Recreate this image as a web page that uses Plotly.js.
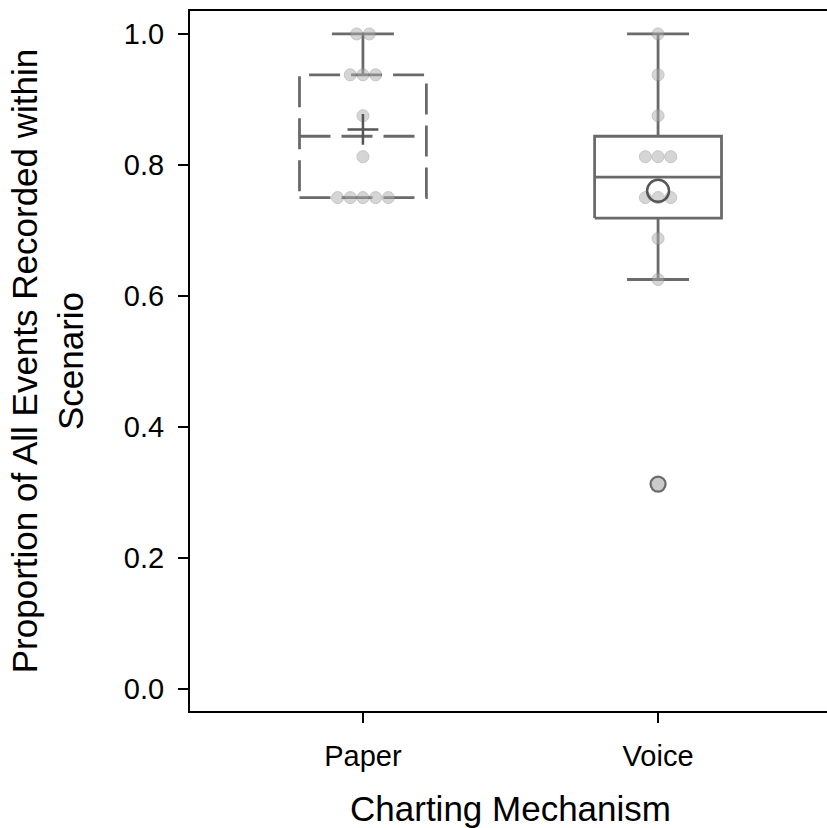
<!DOCTYPE html>
<html>
<head>
<meta charset="utf-8">
<script src="https://cdn.plot.ly/plotly-3.0.1.min.js"></script>
<style>
html,body{margin:0;padding:0;overflow:hidden;background:#fff;}
#chart{width:832px;height:828px;}
</style>
</head>
<body>
<div id="chart"></div>
<script>
// ---- data ----
const categories = ['Paper', 'Voice'];
const paperValues = [1.0, 1.0, 0.9375, 0.9375, 0.9375, 0.875, 0.8125, 0.75, 0.75, 0.75, 0.75, 0.75];
const voiceValues = [1.0, 0.9375, 0.875, 0.8125, 0.8125, 0.8125, 0.75, 0.75, 0.75, 0.6875, 0.625, 0.3125];
const yTickVals = [0.0, 0.2, 0.4, 0.6, 0.8, 1.0];
const yTickText = ['0.0', '0.2', '0.4', '0.6', '0.8', '1.0'];
const xTitle = 'Charting Mechanism';
const yTitle = 'Proportion of All Events Recorded within<br>Scenario';

// ---- helpers ----
function med(s) {
  const n = s.length;
  return n % 2 ? s[(n - 1) / 2] : (s[n / 2 - 1] + s[n / 2]) / 2;
}
function stats(vals) {
  const s = vals.slice().sort((a, b) => a - b);
  const n = s.length;
  const m = med(s);
  const q1 = med(s.slice(0, Math.floor(n / 2)));
  const q3 = med(s.slice(Math.ceil(n / 2)));
  const iqr = q3 - q1;
  const lo = q1 - 1.5 * iqr, hi = q3 + 1.5 * iqr;
  const inside = s.filter(v => v >= lo && v <= hi);
  const mean = s.reduce((a, b) => a + b, 0) / n;
  return { q1, q3, median: m, mean, wlo: inside[0], whi: inside[inside.length - 1],
           outliers: s.filter(v => v < lo || v > hi) };
}
function swarm(vals, center, step) {
  const groups = {};
  vals.forEach(v => { (groups[v] = groups[v] || []).push(v); });
  const xs = [], ys = [];
  Object.keys(groups).forEach(k => {
    const g = groups[k];
    g.forEach((v, j) => { xs.push(center + (j - (g.length - 1) / 2) * step); ys.push(v); });
  });
  return { xs, ys };
}

const BOXW = 0.43, CAPW = 0.21, STEP = 0.043;
const lineCol = '#6a6a6a';
const traces = [];

function addBox(vals, i, dash, meanStyle) {
  const st = stats(vals);
  const L = i - BOXW / 2, R = i + BOXW / 2;
  const base = { mode: 'lines', hoverinfo: 'skip', showlegend: false };
  // box
  traces.push(Object.assign({}, base, {
    x: [L, R, R, L, L], y: [st.q1, st.q1, st.q3, st.q3, st.q1],
    line: { color: lineCol, width: 2.8, dash: dash }
  }));
  // median
  traces.push(Object.assign({}, base, {
    x: [L, R], y: [st.median, st.median],
    line: { color: lineCol, width: 2.8, dash: dash }
  }));
  // whiskers + caps
  const wx = [], wy = [];
  if (st.whi > st.q3) { wx.push(i, i, null, i - CAPW / 2, i + CAPW / 2, null); wy.push(st.q3, st.whi, null, st.whi, st.whi, null); }
  else { wx.push(i - CAPW / 2, i + CAPW / 2, null); wy.push(st.whi, st.whi, null); }
  if (st.wlo < st.q1) { wx.push(i, i, null, i - CAPW / 2, i + CAPW / 2, null); wy.push(st.q1, st.wlo, null, st.wlo, st.wlo, null); }
  traces.push(Object.assign({}, base, { x: wx, y: wy, line: { color: lineCol, width: 2.8 } }));
  // points
  const sw = swarm(vals, i, STEP);
  traces.push({ x: sw.xs, y: sw.ys, mode: 'markers', hoverinfo: 'skip', showlegend: false,
    marker: { size: 12, color: '#acacac', opacity: 0.5, line: { color: '#8c8c8c', width: 1 } } });
  // outliers
  if (st.outliers.length) {
    traces.push({ x: st.outliers.map(() => i), y: st.outliers, mode: 'markers', hoverinfo: 'skip', showlegend: false,
      marker: { size: 15, color: '#cbcbcb', line: { color: '#6a6a6a', width: 2.2 } } });
  }
  // mean
  traces.push({ x: [i], y: [st.mean], mode: 'markers', hoverinfo: 'skip', showlegend: false,
    marker: meanStyle });
}

addBox(paperValues, 0, '31px,11px', { symbol: 'cross-thin', size: 22, color: '#555', line: { color: '#555', width: 2.5 } });
addBox(voiceValues, 1, 'solid', { symbol: 'circle-open', size: 22, color: '#555', line: { color: '#555', width: 2.5 } });

const font = { family: 'Liberation Sans, Arial, sans-serif', color: '#000' };
const layout = {
  width: 832, height: 828,
  margin: { l: 190, r: 1, t: 11, b: 117 },
  paper_bgcolor: '#fff', plot_bgcolor: '#fff',
  showlegend: false,
  xaxis: {
    range: [-0.586, 1.586], tickvals: [0, 1], ticktext: categories,
    showgrid: false, zeroline: false, showline: true, mirror: true,
    linecolor: '#000', linewidth: 2,
    ticks: 'outside', ticklen: 10, tickwidth: 2, tickcolor: '#000',
    tickfont: Object.assign({ size: 29 }, font),
    ticklabelstandoff: 8,
    title: { text: xTitle, font: Object.assign({ size: 35 }, font), standoff: 27 }
  },
  yaxis: {
    range: [-0.034, 1.035], tickvals: yTickVals, ticktext: yTickText,
    showgrid: false, zeroline: false, showline: true, mirror: true,
    linecolor: '#000', linewidth: 2,
    ticks: 'outside', ticklen: 10, tickwidth: 2, tickcolor: '#000',
    tickfont: Object.assign({ size: 29 }, font),
    ticklabelstandoff: 8,
    title: { text: yTitle, font: Object.assign({ size: 35 }, font), standoff: 30 }
  }
};

Plotly.newPlot('chart', traces, layout, { staticPlot: true, displayModeBar: false });
</script>
</body>
</html>
